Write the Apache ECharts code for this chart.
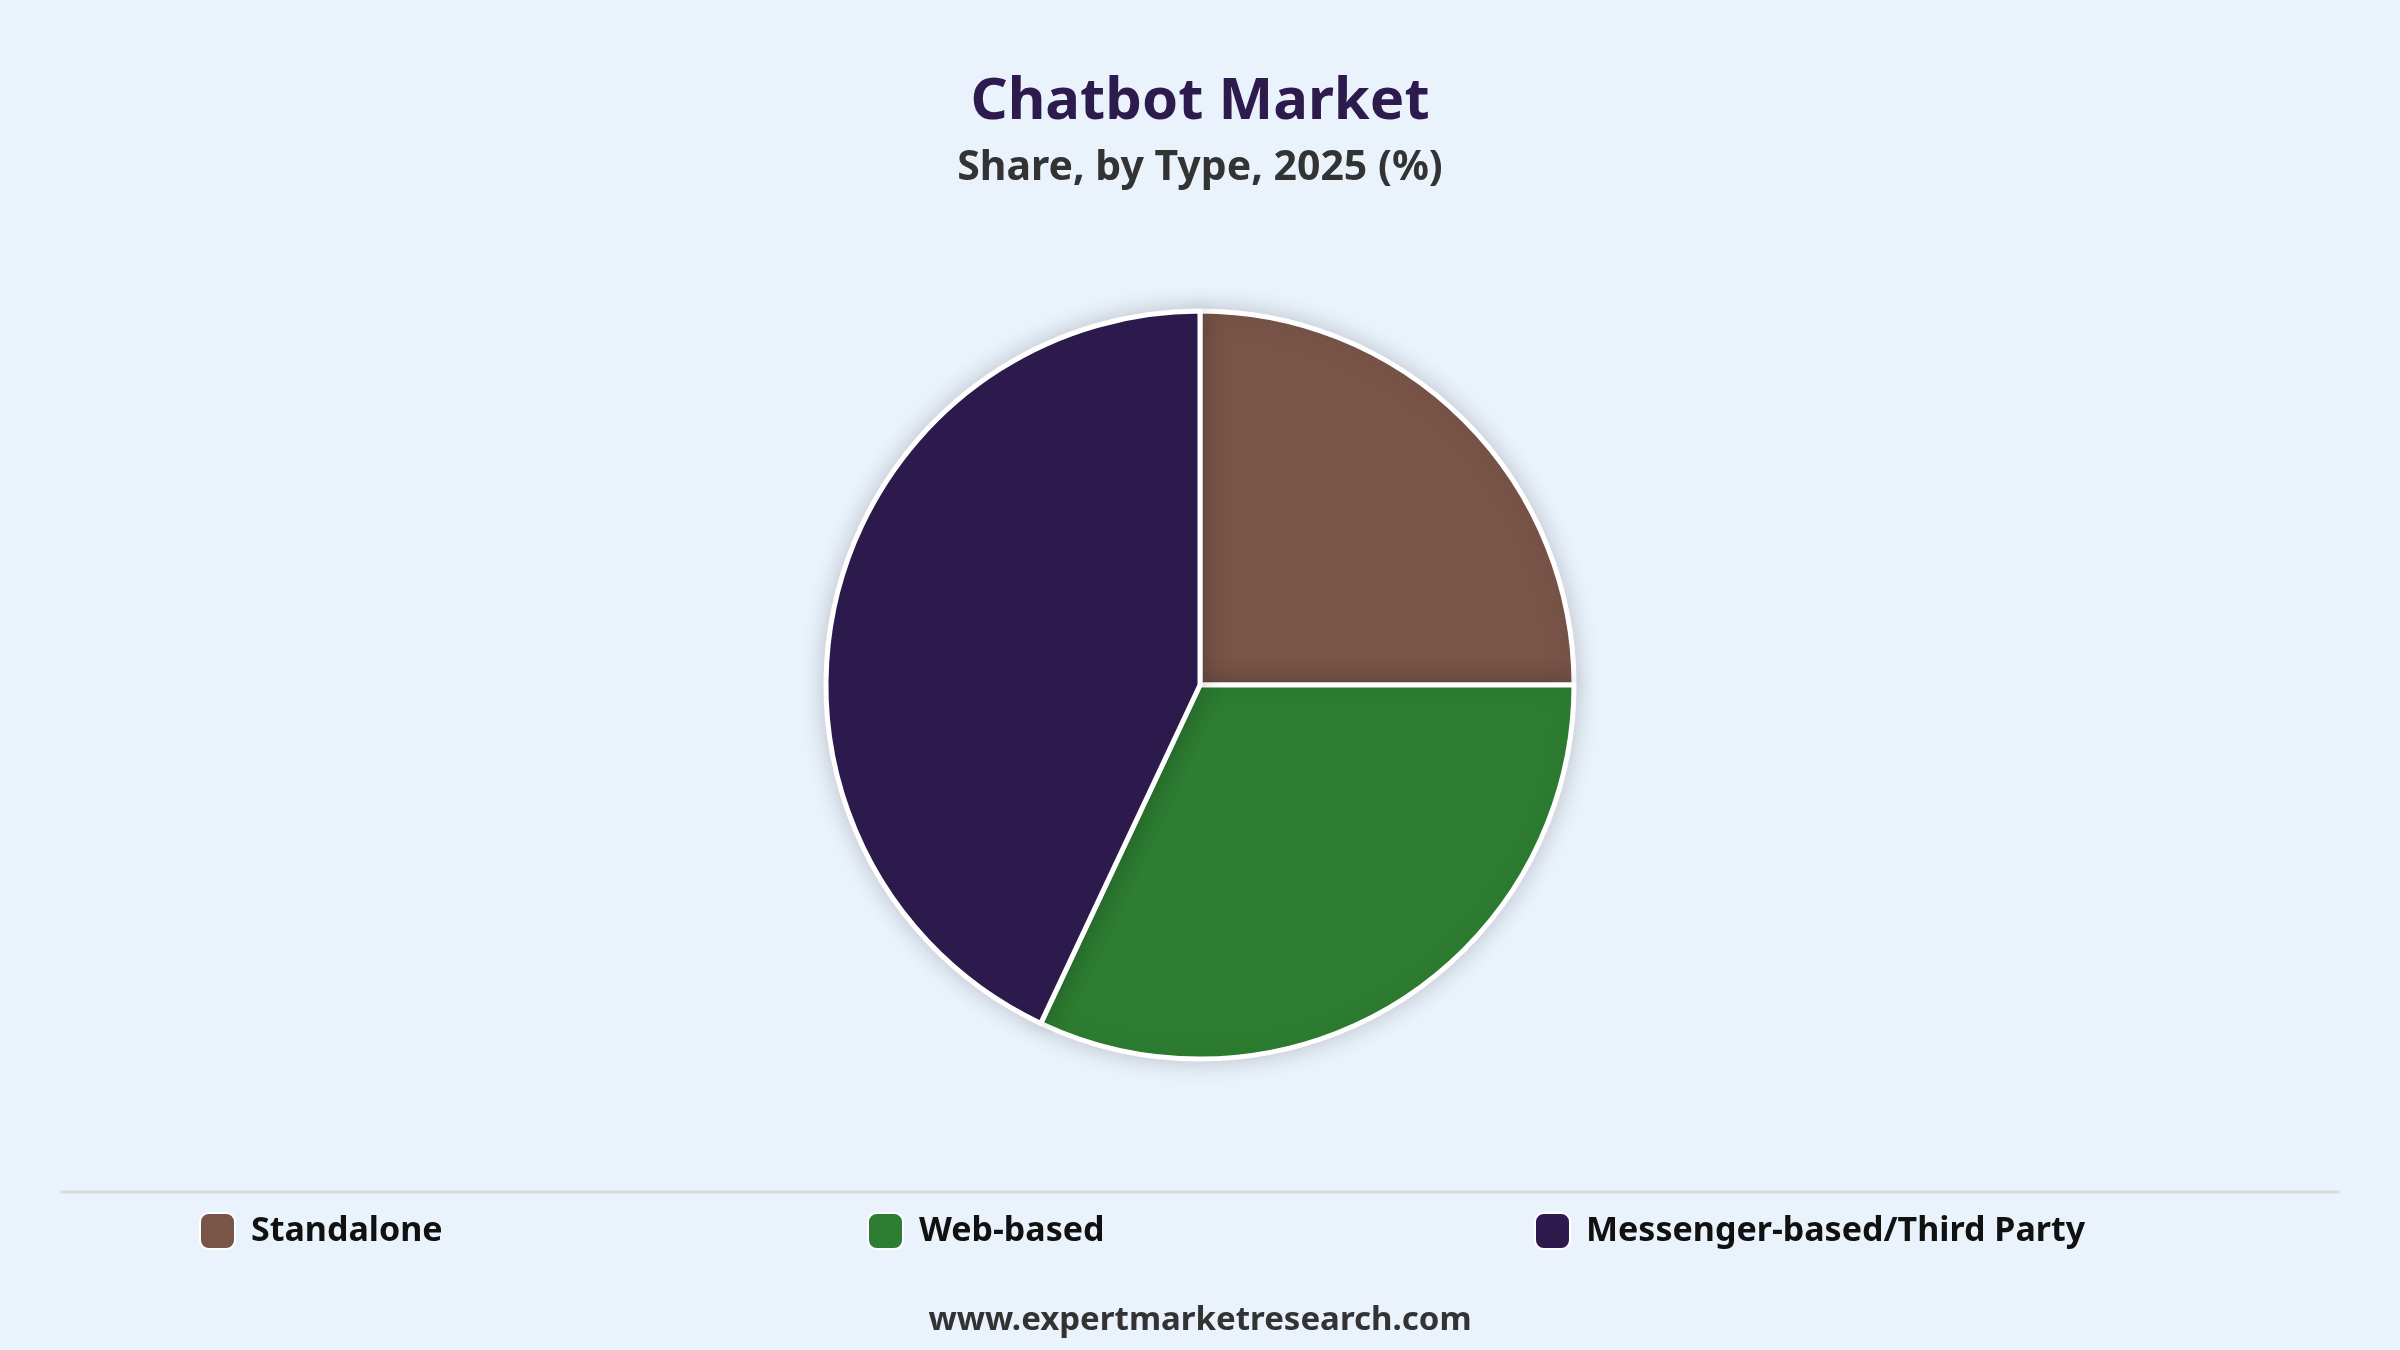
<!DOCTYPE html>
<html>
<head>
<meta charset="utf-8">
<script src="https://cdn.jsdelivr.net/npm/echarts@6/dist/echarts.min.js"></script>
<style>
html,body{margin:0;padding:0;background:#eaf2fc;}
#chart{width:2400px;height:1350px;}
</style>
</head>
<body>
<div id="chart"></div>
<script>
const categories = ['Standalone', 'Web-based', 'Messenger-based/Third Party'];
const shares = [25, 32, 43];
const colors = ['#795548', '#2e7d32', '#2d1b4e'];
const titleText = 'Chatbot Market';
const subtitleText = 'Share, by Type, 2025 (%)';
const footerText = 'www.expertmarketresearch.com';

const font = '"Noto Sans", "Open Sans", sans-serif';
const chart = echarts.init(document.getElementById('chart'));
const legendLefts = [199, 867, 1534];
const legends = categories.map((c, i) => ({
  data: [c],
  left: legendLefts[i],
  top: 1212,
  padding: 0,
  orient: 'horizontal',
  icon: 'roundRect',
  itemWidth: 35,
  itemHeight: 36,
  itemGap: 16,
  selectedMode: false,
  textStyle: {fontFamily: font, fontSize: 34, fontWeight: 'bold', color: '#111', padding: [0, 0, 0, 11]}
}));
chart.setOption({
  backgroundColor: '#eaf2fc',
  animation: false,
  title: [
    {text: titleText, left: 'center', top: 68, textStyle: {fontFamily: font, fontSize: 58, fontWeight: 'bold', color: '#2d1b4e'}},
    {text: subtitleText, left: 'center', top: 143, textStyle: {fontFamily: font, fontSize: 41, fontWeight: 'bold', color: '#333'}},
    {text: footerText, left: 'center', top: 1299, textStyle: {fontFamily: font, fontSize: 33, fontWeight: 'bold', color: '#333'}}
  ],
  legend: legends,
  graphic: [{
    type: 'line', shape: {x1: 60, y1: 1192, x2: 2340, y2: 1192},
    style: {stroke: '#dcdcdc', lineWidth: 3}
  }],
  series: [{
    type: 'pie',
    center: [1200, 685],
    radius: [0, 374],
    startAngle: 90,
    clockwise: true,
    label: {show: false},
    labelLine: {show: false},
    emphasis: {disabled: true},
    itemStyle: {borderColor: '#ffffff', borderWidth: 5, shadowBlur: 24, shadowColor: 'rgba(0,0,0,0.18)'},
    data: categories.map((c, i) => ({name: c, value: shares[i], itemStyle: {color: colors[i]}}))
  }]
});
</script>
</body>
</html>
